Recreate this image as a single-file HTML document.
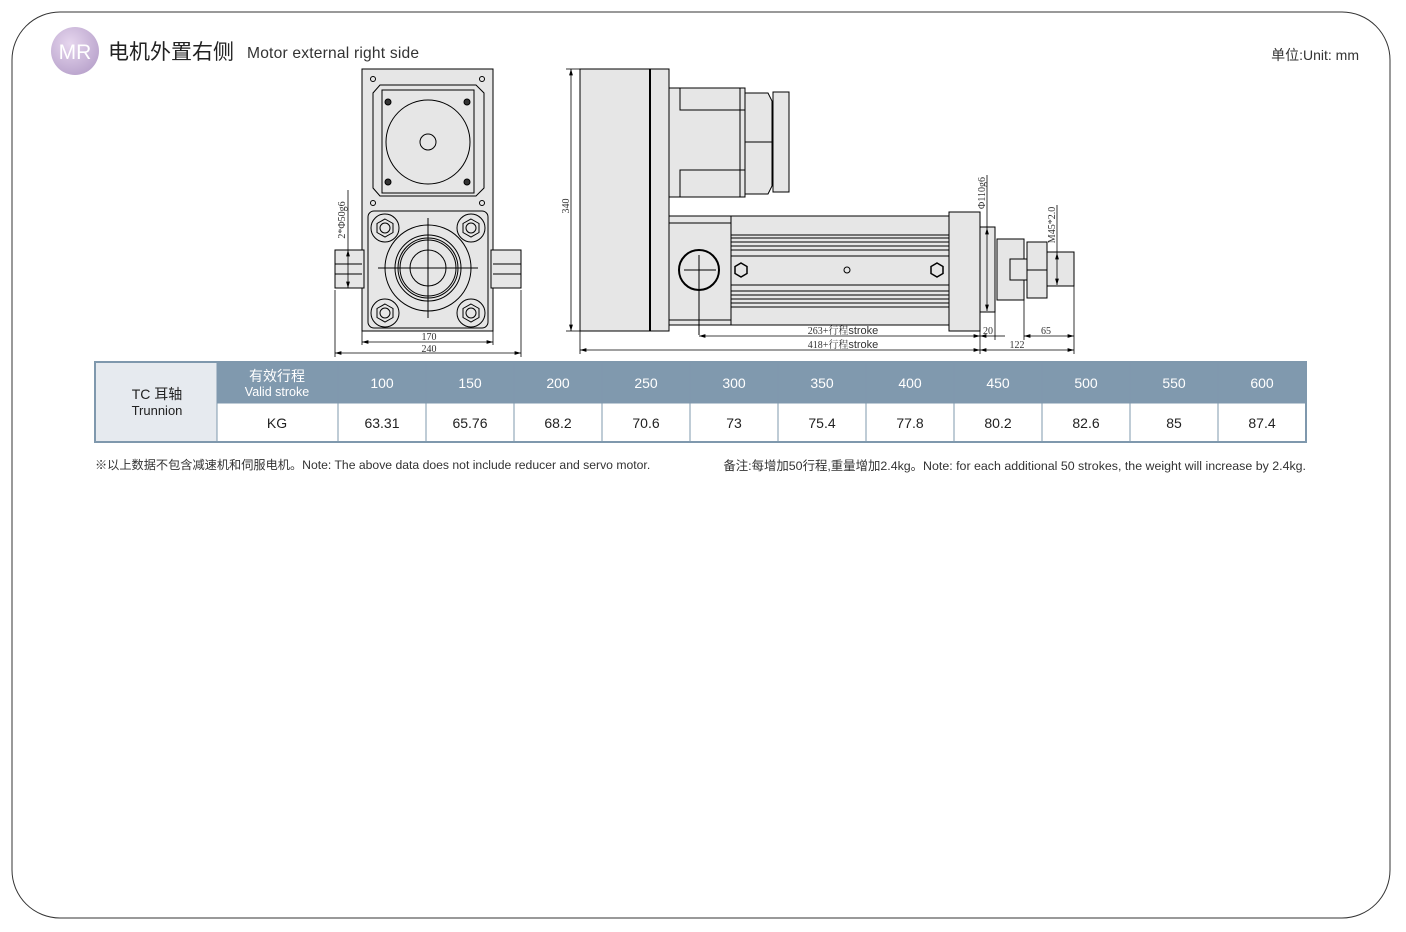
<!DOCTYPE html>
<html><head><meta charset="utf-8"><style>
body{margin:0;width:1406px;height:932px;background:#fff;overflow:hidden;font-family:"Liberation Sans","Noto Sans CJK SC",sans-serif;}
svg{position:absolute;left:0;top:0}
</style></head><body>
<svg width="1406" height="932" viewBox="0 0 1406 932" xmlns="http://www.w3.org/2000/svg">
<defs>
<radialGradient id="mr" cx="40%" cy="35%" r="70%"><stop offset="0" stop-color="#e6d6ee"/><stop offset="1" stop-color="#b9a3cc"/></radialGradient>
<marker id="a" viewBox="0 0 10 6" refX="10" refY="3" markerWidth="8" markerHeight="5" orient="auto-start-reverse"><path d="M0,0L10,3L0,6z" fill="#000"/></marker>
</defs>
<rect x="12" y="12" width="1378" height="906" rx="48" fill="#fff" stroke="#333" stroke-width="1"/>
<circle cx="75" cy="51" r="24" fill="url(#mr)"/>
<text x="75" y="59" font-size="21" fill="#fff" text-anchor="middle">MR</text>
<text x="108" y="59" font-size="21" fill="#222" font-family="Liberation Sans,Noto Sans CJK SC,sans-serif">电机外置右侧</text>
<text x="247" y="58" font-size="15.6" fill="#333" letter-spacing="0.2">Motor external right side</text>
<text x="1359" y="60" font-size="14" fill="#333" text-anchor="end">单位:Unit: mm</text>

<g stroke="#000" stroke-width="1" fill="#e6e6e6">
<rect x="362" y="69" width="131" height="262"/>
<path d="M380,85H476L484,93V188L476,196H380L373,188V93Z"/>
<rect x="382" y="90" width="92" height="103" fill="none"/>
<circle cx="428" cy="142" r="42"/>
<circle cx="428" cy="142" r="8"/>
<g fill="#333"><circle cx="388" cy="102" r="3"/><circle cx="467" cy="102" r="3"/><circle cx="388" cy="182" r="3"/><circle cx="467" cy="182" r="3"/></g>
<g fill="none"><circle cx="373" cy="79" r="2.5"/><circle cx="482" cy="79" r="2.5"/><circle cx="373" cy="203" r="2.5"/><circle cx="482" cy="203" r="2.5"/></g>
<rect x="368" y="211" width="120" height="117" rx="6"/>
<rect x="335" y="250" width="29" height="38"/><rect x="491" y="250" width="30" height="38"/>
<line x1="335" y1="264" x2="362" y2="264"/><line x1="335" y1="274" x2="362" y2="274"/>
<line x1="493" y1="264" x2="521" y2="264"/><line x1="493" y1="274" x2="521" y2="274"/>
<circle cx="428" cy="268" r="43"/>
<circle cx="428" cy="268" r="33"/><circle cx="428" cy="268" r="30"/><circle cx="428" cy="268" r="28"/>
<circle cx="428" cy="268" r="18"/>
<line x1="428" y1="218" x2="428" y2="318"/><line x1="378" y1="268" x2="478" y2="268"/>
<g><circle cx="385" cy="228" r="14"/><polygon points="385,219 393,223.5 393,232.5 385,237 377,232.5 377,223.5"/><circle cx="385" cy="228" r="5"/>
<circle cx="471" cy="228" r="14"/><polygon points="471,219 479,223.5 479,232.5 471,237 463,232.5 463,223.5"/><circle cx="471" cy="228" r="5"/>
<circle cx="385" cy="313" r="14"/><polygon points="385,304 393,308.5 393,317.5 385,322 377,317.5 377,308.5"/><circle cx="385" cy="313" r="5"/>
<circle cx="471" cy="313" r="14"/><polygon points="471,304 479,308.5 479,317.5 471,322 463,317.5 463,308.5"/><circle cx="471" cy="313" r="5"/></g>

<rect x="580" y="69" width="89" height="262"/>
<line x1="650" y1="69" x2="650" y2="331" stroke-width="2"/>
<rect x="669" y="88" width="76" height="109"/>
<rect x="680" y="88" width="65" height="22"/><rect x="680" y="170" width="65" height="27"/>
<line x1="740" y1="88" x2="740" y2="197"/>
<path d="M745,93H768L772,101V186L768,194H745Z"/>
<rect x="773" y="92" width="16" height="100"/>
<line x1="745" y1="142" x2="772" y2="142"/>
<rect x="669" y="216" width="280" height="109"/>
<line x1="669" y1="223" x2="731" y2="223"/><line x1="669" y1="320" x2="731" y2="320"/>
<line x1="731" y1="216" x2="731" y2="325"/>
<g fill="none"><line x1="731" y1="235" x2="949" y2="235"/><line x1="731" y1="238" x2="949" y2="238"/><line x1="731" y1="242" x2="949" y2="242"/><line x1="731" y1="246" x2="949" y2="246"/><line x1="731" y1="250" x2="949" y2="250"/><line x1="731" y1="256" x2="949" y2="256"/>
<line x1="731" y1="285" x2="949" y2="285"/><line x1="731" y1="291" x2="949" y2="291"/><line x1="731" y1="295" x2="949" y2="295"/><line x1="731" y1="299" x2="949" y2="299"/><line x1="731" y1="303" x2="949" y2="303"/><line x1="731" y1="307" x2="949" y2="307"/></g>
<circle cx="699" cy="270" r="20" fill="none" stroke-width="2"/>
<line x1="684" y1="270" x2="716" y2="270"/><line x1="699" y1="255" x2="699" y2="335"/>
<polygon points="741,263 747,266.5 747,273.5 741,277 735,273.5 735,266.5" stroke-width="1.5"/>
<polygon points="937,263 943,266.5 943,273.5 937,277 931,273.5 931,266.5" stroke-width="1.5"/>
<circle cx="847" cy="270" r="3"/>
<rect x="949" y="212" width="31" height="119"/>
<rect x="980" y="227" width="15" height="85"/>
<rect x="997" y="239" width="27" height="61"/>
<rect x="1010" y="259" width="17" height="21"/>
<path d="M1027,242H1047V298H1027Z"/><line x1="1027" y1="270" x2="1047" y2="270"/>
<rect x="1047" y="252" width="27" height="34"/>
</g>

<g stroke="#000" stroke-width="0.8" fill="none">
<line x1="362" y1="331" x2="362" y2="345"/><line x1="493" y1="331" x2="493" y2="345"/>
<line x1="335" y1="290" x2="335" y2="357"/><line x1="521" y1="290" x2="521" y2="357"/>
<line x1="362" y1="342" x2="493" y2="342" marker-start="url(#a)" marker-end="url(#a)"/>
<line x1="335" y1="353" x2="521" y2="353" marker-start="url(#a)" marker-end="url(#a)"/>
<line x1="348" y1="250" x2="348" y2="288" marker-start="url(#a)" marker-end="url(#a)"/>
<line x1="348" y1="190" x2="348" y2="250"/>
<line x1="571" y1="69" x2="571" y2="331" marker-start="url(#a)" marker-end="url(#a)"/>
<line x1="566" y1="69" x2="580" y2="69"/><line x1="566" y1="331" x2="580" y2="331"/>
<line x1="580" y1="331" x2="580" y2="354"/>
<line x1="980" y1="331" x2="980" y2="354"/><line x1="1074" y1="286" x2="1074" y2="354"/>
<line x1="995" y1="312" x2="995" y2="340"/><line x1="1024" y1="300" x2="1024" y2="340"/>
<line x1="699" y1="336" x2="980" y2="336" marker-start="url(#a)" marker-end="url(#a)"/>
<line x1="580" y1="350" x2="980" y2="350" marker-start="url(#a)" marker-end="url(#a)"/>
<line x1="980" y1="336" x2="995" y2="336" marker-start="url(#a)"/>
<line x1="995" y1="336" x2="1005" y2="336"/>
<line x1="1024" y1="336" x2="1074" y2="336" marker-start="url(#a)" marker-end="url(#a)"/>
<line x1="980" y1="350" x2="1074" y2="350" marker-start="url(#a)" marker-end="url(#a)"/>
<line x1="987" y1="228" x2="987" y2="311" marker-start="url(#a)" marker-end="url(#a)"/>
<line x1="987" y1="175" x2="987" y2="228"/>
<line x1="1057" y1="253" x2="1057" y2="285" marker-start="url(#a)" marker-end="url(#a)"/>
<line x1="1057" y1="205" x2="1057" y2="253"/>
</g>
<g font-family="Liberation Serif,Noto Serif CJK SC,serif" font-size="10" fill="#333" text-anchor="middle">
<text x="429" y="340">170</text><text x="429" y="352">240</text>
<text transform="translate(345,220) rotate(-90)" x="0" y="0">2*Φ50g6</text>
<text transform="translate(569,206) rotate(-90)">340</text>
<text x="843" y="334"><tspan>263+行程</tspan><tspan font-family="Liberation Sans,sans-serif" font-size="11">stroke</tspan></text>
<text x="843" y="348"><tspan>418+行程</tspan><tspan font-family="Liberation Sans,sans-serif" font-size="11">stroke</tspan></text>
<text x="988" y="334">20</text><text x="1046" y="334">65</text><text x="1017" y="348">122</text>
<text transform="translate(985,193) rotate(-90)">Φ110g6</text>
<text transform="translate(1055,225) rotate(-90)">M45*2.0</text>
</g>

<rect x="95" y="362" width="1211" height="80" fill="#fff" stroke="#7f98ad" stroke-width="2"/>
<rect x="96" y="363" width="121" height="78" fill="#e6eaef"/>
<rect x="217" y="363" width="1088" height="40" fill="#8099ae"/>
<g stroke="#7f98ad" stroke-width="1">
<line x1="217" y1="363" x2="217" y2="442"/>
<line x1="217" y1="403" x2="1306" y2="403"/>
<line x1="338" y1="363" x2="338" y2="442"/><line x1="426" y1="363" x2="426" y2="442"/><line x1="514" y1="363" x2="514" y2="442"/><line x1="602" y1="363" x2="602" y2="442"/><line x1="690" y1="363" x2="690" y2="442"/><line x1="778" y1="363" x2="778" y2="442"/><line x1="866" y1="363" x2="866" y2="442"/><line x1="954" y1="363" x2="954" y2="442"/><line x1="1042" y1="363" x2="1042" y2="442"/><line x1="1130" y1="363" x2="1130" y2="442"/><line x1="1218" y1="363" x2="1218" y2="442"/>
</g>
<g font-size="14" text-anchor="middle" fill="#fff">
<text x="277" y="381">有效行程</text><text x="277" y="396" font-size="12.5">Valid stroke</text>
<text x="382" y="388">100</text><text x="470" y="388">150</text><text x="558" y="388">200</text><text x="646" y="388">250</text><text x="734" y="388">300</text><text x="822" y="388">350</text><text x="910" y="388">400</text><text x="998" y="388">450</text><text x="1086" y="388">500</text><text x="1174" y="388">550</text><text x="1262" y="388">600</text>
</g>
<g font-size="14" text-anchor="middle" fill="#222">
<text x="157" y="399">TC 耳轴</text><text x="157" y="415" font-size="13">Trunnion</text>
<text x="277" y="428">KG</text>
<text x="382" y="428">63.31</text><text x="470" y="428">65.76</text><text x="558" y="428">68.2</text><text x="646" y="428">70.6</text><text x="734" y="428">73</text><text x="822" y="428">75.4</text><text x="910" y="428">77.8</text><text x="998" y="428">80.2</text><text x="1086" y="428">82.6</text><text x="1174" y="428">85</text><text x="1262" y="428">87.4</text>
</g>
<text x="95" y="469" font-size="12.2" fill="#333">※以上数据不包含减速机和伺服电机。Note: The above data does not include reducer and servo motor.</text>
<text x="1306" y="470" font-size="12.4" fill="#333" text-anchor="end">备注:每增加50行程,重量增加2.4kg。Note: for each additional 50 strokes, the weight will increase by 2.4kg.</text>
</svg>
</body></html>
